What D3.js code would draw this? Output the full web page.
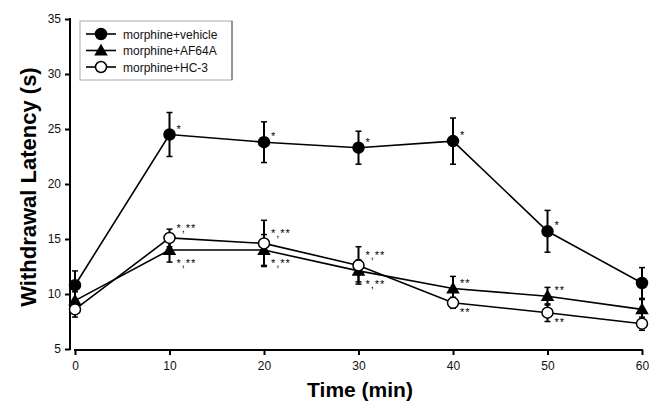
<!DOCTYPE html>
<html lang="en">
<head>
<meta charset="UTF-8">
<title>Withdrawal Latency</title>
<script src="https://cdn.jsdelivr.net/npm/d3@7"></script>
<style>
    body { margin: 0; background: #fff; }
    svg { font-family: "Liberation Sans", Arial, sans-serif; }
    .tick text { font-size: 12px; fill: #111; }
    .axis path, .axis line { stroke: #000; stroke-width: 2px; }
    .title { font-weight: bold; font-size: 21px; fill: #000; }
    .note { font-size: 11px; fill: #000; letter-spacing: 1px; }
</style>
</head>
<body>
<div id="chart"></div>
<script>
// data
const times = [0, 10, 20, 30, 40, 50, 60]
const vehicle = [10.8, 24.5, 23.8, 23.3, 23.9, 15.7, 11.0]
const vehicleErr = [1.3, 2.0, 1.85, 1.5, 2.1, 1.9, 1.4]
const af64a = [9.4, 14.0, 14.0, 12.1, 10.5, 9.8, 8.6]
const af64aErr = [0.8, 1.1, 1.4, 1.0, 1.1, 0.8, 0.9]
const hc3 = [8.6, 15.1, 14.6, 12.6, 9.2, 8.3, 7.3]
const hc3Err = [0.7, 0.8, 2.1, 1.7, 0.5, 0.8, 0.6]
const vehicleNotes = ['', '*', '*', '*', '*', '*', '']
const af64aNotes = ['', '*,**', '*,**', '*,**', '**', '**', '']
const hc3Notes = ['', '*,**', '*,**', '*,**', '**', '**', '']
const xTicks = [0, 10, 20, 30, 40, 50, 60]
const yTicks = [5, 10, 15, 20, 25, 30, 35]

const width = 649, height = 406

const svg = d3.select('#chart').append('svg')
    .attr('width', width)
    .attr('height', height)

const x = d3.scaleLinear().domain([0, 60]).range([75, 642])
const y = d3.scaleLinear().domain([5, 35]).range([349, 19])

// axes
svg.append('g').attr('class', 'axis')
    .attr('transform', 'translate(70,0)')
    .call(d3.axisLeft(y).tickValues(yTicks).tickSize(5).tickSizeOuter(0).tickPadding(4))
    .call(g => g.select('.domain').remove())
    .call(g => g.append('line').attr('x1', 0).attr('x2', 0).attr('y1', 18).attr('y2', 350)
        .attr('stroke', '#000').attr('stroke-width', 2))

svg.append('g').attr('class', 'axis')
    .attr('transform', 'translate(0,350)')
    .call(d3.axisBottom(x).tickValues(xTicks).tickSize(5).tickSizeOuter(0).tickPadding(6))
    .call(g => g.select('.domain').remove())
    .call(g => g.append('line').attr('x1', 74).attr('x2', 643).attr('y1', 0).attr('y2', 0)
        .attr('stroke', '#000').attr('stroke-width', 2))

svg.append('text').attr('class', 'title')
    .attr('transform', 'translate(36,187) rotate(-90)')
    .attr('text-anchor', 'middle')
    .style('font-size', '22px')
    .text('Withdrawal Latency (s)')

svg.append('text').attr('class', 'title')
    .attr('x', 360).attr('y', 397)
    .attr('text-anchor', 'middle')
    .text('Time (min)')

const series = [
    {name: 'morphine+vehicle', values: vehicle, err: vehicleErr, notes: vehicleNotes, marker: 'filled', noteSide: [1, 1, 1, 1, 1, 1, 1]},
    {name: 'morphine+AF64A', values: af64a, err: af64aErr, notes: af64aNotes, marker: 'triangle', noteSide: [1, -1, -1, -1, 1, 1, 1]},
    {name: 'morphine+HC-3', values: hc3, err: hc3Err, notes: hc3Notes, marker: 'open', noteSide: [1, 1, 1, 1, -1, -1, -1]},
]

const line = d3.line().x((d, i) => x(times[i])).y(d => y(d))
const triangle = d3.symbol().type(d3.symbolTriangle).size(80)

function drawMarker(g, kind, cx, cy) {
    if (kind === 'triangle') {
        g.append('path').attr('d', triangle())
            .attr('transform', `translate(${cx},${cy + 1})`)
            .attr('fill', '#000')
    } else {
        g.append('circle').attr('cx', cx).attr('cy', cy).attr('r', 5.5)
            .attr('fill', kind === 'filled' ? '#000' : '#fff')
            .attr('stroke', '#000').attr('stroke-width', 1.5)
    }
}

series.forEach(s => {
    const g = svg.append('g')
    g.append('path').datum(s.values)
        .attr('d', line)
        .attr('fill', 'none')
        .attr('stroke', '#000')
        .attr('stroke-width', 1.6)

    s.values.forEach((v, i) => {
        const cx = x(times[i])
        g.append('line').attr('x1', cx).attr('x2', cx)
            .attr('y1', y(v - s.err[i])).attr('y2', y(v + s.err[i]))
            .attr('stroke', '#000').attr('stroke-width', 2)
        ;[v - s.err[i], v + s.err[i]].forEach(e => {
            g.append('line').attr('x1', cx - 3).attr('x2', cx + 3)
                .attr('y1', y(e)).attr('y2', y(e))
                .attr('stroke', '#000').attr('stroke-width', 1.5)
        })
    })
    s.values.forEach((v, i) => drawMarker(g, s.marker, x(times[i]), y(v)))

    s.values.forEach((v, i) => {
        const note = s.notes[i]
        if (!note) return
        const up = s.noteSide[i] > 0
        const comma = note.includes(',')
        const dy = up ? (comma ? -6 : -2) : (comma ? 17 : 13)
        g.append('text').attr('class', 'note')
            .attr('x', x(times[i]) + 7)
            .attr('y', y(v) + dy)
            .text(note)
    })
})

// legend
const legend = svg.append('g')
legend.append('rect').attr('x', 80).attr('y', 21).attr('width', 152).attr('height', 59)
    .attr('fill', '#fff').attr('stroke', '#aaa').attr('stroke-width', 1)
legend.append('line').attr('x1', 232).attr('x2', 232).attr('y1', 21).attr('y2', 80)
    .attr('stroke', '#555').attr('stroke-width', 1)

series.forEach((s, i) => {
    const ly = 34 + i * 16.5
    legend.append('line').attr('x1', 86).attr('x2', 116).attr('y1', ly).attr('y2', ly)
        .attr('stroke', '#000').attr('stroke-width', 1.6)
    drawMarker(legend, s.marker, 101, ly)
    legend.append('text').attr('x', 123).attr('y', ly + 4.5)
        .attr('font-size', 12).attr('fill', '#111')
        .text(s.name)
})
</script>
</body>
</html>
